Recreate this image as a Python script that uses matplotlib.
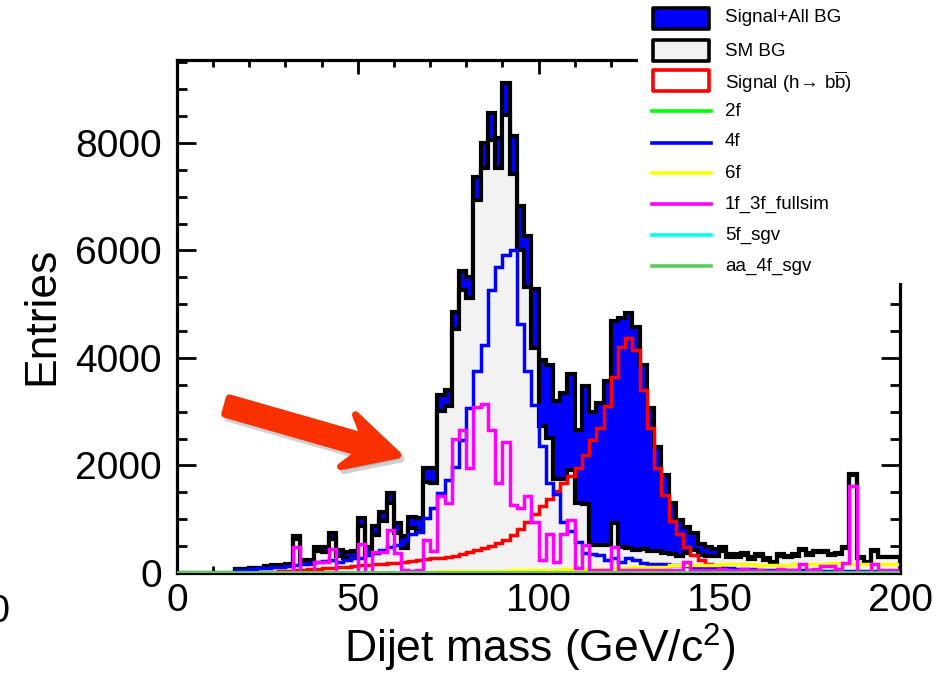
import numpy as np
import matplotlib
matplotlib.use('Agg')
import matplotlib.pyplot as plt
from matplotlib.patches import Rectangle, Polygon
from matplotlib.lines import Line2D
from matplotlib.ticker import MultipleLocator

plt.rcParams['font.family'] = ['Liberation Sans', 'DejaVu Sans']
plt.rcParams['mathtext.fontset'] = 'custom'
plt.rcParams['mathtext.rm'] = 'Liberation Sans'
plt.rcParams['mathtext.it'] = 'Liberation Sans:italic'
plt.rcParams['mathtext.bf'] = 'Liberation Sans:bold'

# ---------------- data (2 GeV bins, 0-200 GeV) ----------------
bin_edges = np.arange(0, 202, 2)

total_sig_bg = [
    0, 0, 0, 0, 0, 0, 0, 0, 70, 75,
    100, 100, 135, 140, 145, 160, 680, 240, 245, 490,
    480, 740, 430, 390, 400, 1020, 490, 870, 1140, 1480,
    930, 680, 1050, 1030, 1950, 1950, 3310, 3400, 4860, 5620,
    5510, 7370, 8000, 8560, 8090, 9120, 8120, 6830, 6270, 5280,
    3960, 3870, 3190, 3340, 3710, 2660, 3470, 2990, 3160, 3580,
    4680, 4740, 4830, 4580, 3870, 3060, 2340, 1820, 1300, 990,
    860, 750, 540, 480, 440, 480, 360, 350, 380, 305,
    350, 275, 210, 350, 315, 350, 445, 365, 415, 415,
    355, 365, 490, 1840, 290, 210, 430, 305, 305, 305]

sm_bg = [
    0, 0, 0, 0, 0, 0, 0, 0, 70, 75,
    95, 90, 120, 120, 120, 125, 630, 180, 175, 410,
    390, 640, 320, 270, 270, 880, 340, 710, 970, 1300,
    740, 470, 830, 790, 1700, 1680, 3020, 3100, 4530, 5270,
    5120, 6940, 7540, 8050, 7530, 8510, 7420, 6010, 5320, 4180,
    2730, 2520, 1740, 1740, 1910, 1300, 1290, 520, 520, 520,
    930, 480, 460, 430, 450, 400, 410, 380, 360, 320,
    380, 420, 330, 320, 320, 400, 300, 300, 330, 265,
    315, 245, 180, 320, 290, 325, 420, 340, 390, 390,
    330, 345, 470, 1820, 270, 195, 415, 290, 290, 290]

signal_hbb = [
    0, 0, 0, 0, 0, 0, 0, 0, 0, 0,
    10, 15, 20, 25, 30, 40, 50, 60, 70, 80,
    90, 100, 110, 120, 130, 140, 150, 160, 170, 180,
    195, 210, 225, 240, 255, 270, 285, 305, 325, 350,
    390, 430, 465, 510, 560, 610, 700, 820, 950, 1100,
    1250, 1370, 1520, 1680, 1800, 1950, 2200, 2480, 2700, 3100,
    3650, 4200, 4370, 4150, 3400, 2700, 1950, 1460, 960, 720,
    490, 330, 240, 170, 120, 90, 70, 60, 50, 45,
    40, 35, 30, 30, 25, 25, 20, 20, 20, 15,
    15, 15, 10, 10, 10, 10, 5, 5, 5, 5]

bg_2f = [0] * 100

bg_4f = [
    0, 0, 0, 0, 0, 0, 0, 0, 50, 60,
    80, 90, 100, 110, 115, 125, 140, 160, 180, 210,
    230, 250, 200, 240, 270, 280, 330, 370, 420, 480,
    520, 610, 720, 760, 1020, 1200, 1480, 1730, 1980, 2470,
    3060, 3750, 4240, 5260, 5700, 5920, 6010, 4640, 3750, 3120,
    2370, 1670, 1470, 940, 780, 570, 370, 360, 340, 240,
    280, 210, 270, 240, 180, 170, 165, 160, 150, 140,
    130, 120, 110, 100, 95, 90, 85, 80, 75, 70,
    65, 60, 60, 55, 55, 50, 50, 50, 45, 45,
    45, 45, 40, 40, 40, 40, 40, 40, 40, 40]

bg_6f = [
    0, 0, 0, 0, 0, 0, 0, 0, 0, 0,
    0, 0, 0, 0, 0, 0, 0, 0, 0, 0,
    0, 0, 0, 0, 0, 0, 0, 0, 0, 0,
    0, 0, 0, 0, 0, 0, 40, 40, 40, 40,
    40, 40, 40, 45, 45, 45, 55, 60, 60, 60,
    60, 65, 65, 70, 70, 75, 80, 80, 80, 80,
    85, 85, 90, 110, 110, 115, 115, 120, 150, 150,
    150, 150, 155, 155, 155, 160, 160, 160, 160, 160,
    150, 150, 150, 150, 150, 170, 170, 170, 170, 170,
    190, 190, 190, 160, 160, 170, 170, 170, 170, 170]

bg_1f3f = [
    0, 0, 0, 0, 0, 0, 0, 0, 0, 0,
    0, 0, 0, 0, 0, 0, 490, 0, 0, 211,
    211, 440, 0, 0, 0, 540, 0, 390, 390, 800,
    380, 50, 40, 50, 614, 400, 1440, 1310, 2500, 2660,
    1950, 3090, 3150, 2660, 1670, 2440, 1265, 1200, 1430, 955,
    250, 730, 200, 720, 986, 87, 521, 60, 60, 60,
    490, 60, 60, 50, 50, 60, 60, 50, 50, 60,
    211, 60, 50, 60, 60, 74, 56, 56, 68, 60,
    62, 37, 37, 74, 62, 62, 167, 62, 70, 124,
    124, 74, 186, 1620, 20, 20, 167, 62, 62, 62]

bg_5f = [0] * 100
bg_aa4f = [0] * 100

x_ticks_major = [0, 50, 100, 150, 200]
y_ticks_major = [0, 2000, 4000, 6000, 8000]

legend_labels = ['Signal+All BG', 'SM BG', r'Signal (h$\!\rightarrow\!$ b$\overline{\mathrm{b}}$)',
                 '2f', '4f', '6f', '1f_3f_fullsim', '5f_sgv', 'aa_4f_sgv']

# ---------------- figure ----------------
W, H = 949, 678
fig = plt.figure(figsize=(W / 100, H / 100), dpi=100)


def fx(px):
    return px / W


def fy(py):
    return 1 - py / H


ax = fig.add_axes([fx(177), fy(573), (900 - 177) / W, (573 - 60) / H])

ax.stairs(total_sig_bg, bin_edges, fill=True, color='#0000ff', zorder=1.0)
ax.stairs(total_sig_bg, bin_edges, color='black', lw=3.0, zorder=1.1)
ax.stairs(sm_bg, bin_edges, fill=True, color='#f2f2f2', zorder=1.2)
ax.stairs(sm_bg, bin_edges, color='black', lw=3.0, zorder=1.3)

lw = 2.5
ax.stairs(signal_hbb, bin_edges, color='#ff0000', lw=lw, zorder=1.4)
ax.stairs(bg_2f, bin_edges, color='#00ff00', lw=lw, zorder=1.5)
ax.stairs(bg_4f, bin_edges, color='#0000ff', lw=lw, zorder=1.6)
ax.stairs(bg_6f, bin_edges, color='#ffff00', lw=lw, zorder=1.7)
ax.stairs(bg_1f3f, bin_edges, color='#ff00ff', lw=lw, zorder=1.8)
ax.stairs(bg_5f, bin_edges, color='#00ffff', lw=lw, zorder=1.9)
ax.stairs(bg_aa4f, bin_edges, color='#5ccd5c', lw=2.8, zorder=3)

ax.set_xlim(0, 200)
ax.set_ylim(0, (573 - 60) * 18.6)
ax.set_xticks(x_ticks_major)
ax.set_yticks(y_ticks_major)
ax.xaxis.set_minor_locator(MultipleLocator(10))
ax.yaxis.set_minor_locator(MultipleLocator(500))
ax.set_axisbelow(True)
for s in ax.spines.values():
    s.set_linewidth(2.3)
ax.tick_params(axis='both', which='both', direction='in', top=True, right=True,
               width=2.0, labelsize=28)
ax.tick_params(axis='x', which='major', length=10, pad=7)
ax.tick_params(axis='x', which='minor', length=5)
ax.tick_params(axis='y', which='major', length=13.5, pad=11)
ax.tick_params(axis='y', which='minor', length=7)

fig.text(fx(42), fy(316), 'Entries', rotation=90, ha='center', va='center', fontsize=32)
fig.text(fx(540), fy(663), r'Dijet mass (GeV/c$^{2}$)', ha='center', va='baseline', fontsize=32)
fig.text(fx(10), fy(622), '200', ha='right', va='baseline', fontsize=28)

# ---------------- arrow ----------------
T = np.array([227.0, 406.0])
P = np.array([398.0, 455.0])
u = (P - T) / np.linalg.norm(P - T)
n = np.array([u[1], -u[0]])
h = 8.5
hl, hw, notch = 52.0, 27.0, 38.0
pts = [T + h * n, P - notch * u + h * n, P - hl * u + hw * n, P,
       P - hl * u - hw * n, P - notch * u - h * n, T - h * n]
shadow = [(fx(p[0] + 3), fy(p[1] + 4)) for p in pts]
arrow = [(fx(p[0]), fy(p[1])) for p in pts]
fig.add_artist(Polygon(shadow, closed=True, transform=fig.transFigure, facecolor='#777777',
                       edgecolor='#777777', lw=5, joinstyle='round', alpha=0.35, zorder=4))
fig.add_artist(Polygon(arrow, closed=True, transform=fig.transFigure, facecolor='#fa3000',
                       edgecolor='#fa3000', lw=5, joinstyle='round', zorder=4.1))

# ---------------- legend ----------------
fig.add_artist(Rectangle((fx(638), fy(283)), (W - 638) / W, 283 / H, transform=fig.transFigure,
                         facecolor='white', edgecolor='none', zorder=5))
boxes = [((8, 29), '#0000ff', 'black'), ((40, 61), '#f2f2f2', 'black'), ((70, 91), 'white', '#ff0000')]
for (yt, yb), fc, ec in boxes:
    fig.add_artist(Rectangle((fx(653), fy(yb)), (709 - 653) / W, (yb - yt) / H,
                             transform=fig.transFigure, facecolor=fc, edgecolor=ec,
                             lw=2.6, joinstyle='round', zorder=6))
line_rows = [(111, '#00ff00'), (143, '#0000ff'), (173, '#ffff00'), (204, '#ff00ff'),
             (235, '#00ffff'), (266, '#5ccd5c')]
for yy, c in line_rows:
    fig.add_artist(Line2D([fx(652), fx(711)], [fy(yy), fy(yy)], transform=fig.transFigure,
                          color=c, lw=2.6, zorder=6))
text_y = [18, 51, 82, 111, 142, 173, 204, 235, 266]
for lab, yy in zip(legend_labels, text_y):
    fig.text(fx(725), fy(yy), lab, ha='left', va='center', fontsize=13.5, zorder=7)

fig.savefig('out.png', dpi=100)
